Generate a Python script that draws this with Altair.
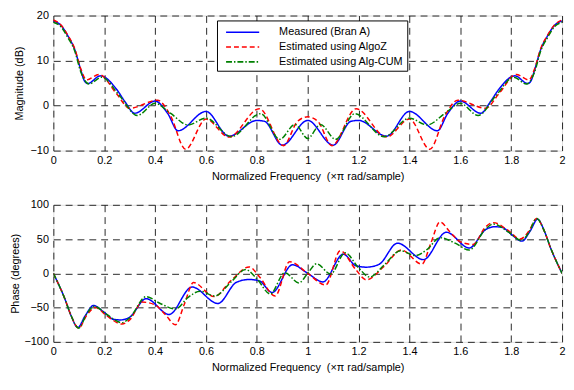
import altair as alt
import pandas as pd

SERIES = ["Measured (Bran A)", "Estimated using AlgoZ", "Estimated using Alg-CUM"]
COLORS = ["#0000ff", "#ff0000", "#008000"]
DASHES = [[1, 0], [5, 3], [6, 2, 1.5, 2]]

x_ticks = [0, 0.2, 0.4, 0.6, 0.8, 1.0, 1.2, 1.4, 1.6, 1.8, 2.0]
mag_ticks = [-10, 0, 10, 20]
phase_ticks = [-100, -50, 0, 50, 100]

# ---- Magnitude (dB) ----
mag_meas_x = [0, 0.03, 0.058, 0.083, 0.109, 0.122, 0.135, 0.185, 0.25, 0.28, 0.32, 0.40, 0.45, 0.49,
              0.60, 0.69, 0.80, 0.83, 0.90, 1.0, 1.10, 1.17, 1.20, 1.31, 1.40, 1.51, 1.55, 1.60,
              1.68, 1.72, 1.75, 1.815, 1.865, 1.878, 1.891, 1.917, 1.942, 1.97, 2.0]
mag_meas_y = [18.8, 17.8, 15.4, 12.6, 7.7, 5.5, 4.9, 6.6, 3.5, 1.0, -1.7, 1.0, -1.8, -5.6,
              -1.3, -6.8, -3.3, -3.5, -8.8, -3.3, -8.8, -3.5, -3.3, -6.8, -1.3, -5.6, -1.8, 1.0,
              -1.7, 1.0, 3.5, 6.6, 4.9, 5.5, 7.7, 12.6, 15.4, 17.8, 18.8]

mag_algoz_x = [0, 0.03, 0.058, 0.083, 0.109, 0.13, 0.18, 0.25, 0.30, 0.41, 0.46, 0.52, 0.60, 0.69,
               0.81, 0.905, 0.96, 1.0, 1.04, 1.095, 1.19, 1.31, 1.40, 1.48, 1.54, 1.59, 1.70,
               1.75, 1.82, 1.87, 1.891, 1.917, 1.942, 1.97, 2.0]
mag_algoz_y = [19.0, 17.9, 15.5, 12.8, 8.0, 5.7, 6.9, 2.5, -0.6, 1.2, -2.2, -9.7, -3.0, -7.0,
               -0.7, -8.9, -3.5, -2.5, -3.5, -8.9, -0.7, -7.0, -3.0, -9.7, -2.2, 1.2, -0.6,
               2.5, 6.9, 5.7, 8.0, 12.8, 15.5, 17.9, 19.0]

mag_cum_x = [0, 0.03, 0.058, 0.083, 0.109, 0.14, 0.19, 0.26, 0.33, 0.40, 0.46, 0.53, 0.60, 0.70,
             0.815, 0.89, 0.95, 1.0, 1.05, 1.11, 1.185, 1.30, 1.40, 1.47, 1.54, 1.60, 1.67,
             1.74, 1.81, 1.86, 1.891, 1.917, 1.942, 1.97, 2.0]
mag_cum_y = [18.5, 17.5, 15.0, 12.3, 7.3, 4.8, 6.3, 2.2, -2.2, 0.5, -1.7, -4.3, -2.8, -6.9,
             -1.8, -7.5, -4.2, -7.3, -4.2, -7.5, -1.8, -6.9, -2.8, -4.3, -1.7, 0.5, -2.2,
             2.2, 6.3, 4.8, 7.3, 12.3, 15.0, 17.5, 18.5]

# ---- Phase (degrees) ----
ph_meas_x = [0, 0.045, 0.07, 0.096, 0.125, 0.158, 0.2, 0.235, 0.265, 0.3, 0.365, 0.455, 0.545,
             0.647, 0.72, 0.77, 0.81, 0.86, 0.94, 1.0, 1.06, 1.14, 1.19, 1.23, 1.28, 1.353,
             1.455, 1.545, 1.635, 1.70, 1.735, 1.765, 1.80, 1.842, 1.875, 1.904, 1.93, 1.955, 2.0]
ph_meas_y = [0, -37, -62, -79, -62, -47, -57, -67, -68, -64, -37, -60, -20,
             -44, -13, -9, -11, -28, 12.5, 0, -12.5, 28, 11, 9, 13, 44,
             20, 60, 37, 64, 68, 67, 57, 47, 62, 79, 62, 37, 0]

ph_algoz_x = [0, 0.045, 0.07, 0.1, 0.13, 0.165, 0.21, 0.27, 0.30, 0.35, 0.40, 0.44, 0.48, 0.515,
              0.551, 0.632, 0.70, 0.77, 0.81, 0.872, 0.929, 1.0, 1.071, 1.128, 1.19, 1.23, 1.30,
              1.368, 1.449, 1.485, 1.52, 1.56, 1.60, 1.65, 1.70, 1.73, 1.79, 1.835, 1.87, 1.9,
              1.93, 1.955, 2.0]
ph_algoz_y = [0, -37, -62, -80, -62, -50, -62, -74, -68, -42, -46, -60, -75, -45,
              -13.5, -34, -10, 9.4, -5, -33, 17, 0, -17, 33, 5, -9.4, 10,
              34, 13.5, 45, 75, 60, 46, 42, 68, 74, 62, 50, 62, 80,
              62, 37, 0]

ph_cum_x = [0, 0.045, 0.07, 0.1, 0.13, 0.16, 0.21, 0.27, 0.30, 0.365, 0.42, 0.48, 0.53, 0.577,
            0.635, 0.70, 0.756, 0.80, 0.853, 0.91, 0.965, 1.0, 1.035, 1.09, 1.147, 1.20, 1.244,
            1.30, 1.365, 1.423, 1.47, 1.52, 1.58, 1.635, 1.70, 1.73, 1.79, 1.84, 1.87, 1.9,
            1.93, 1.955, 2.0]
ph_cum_y = [0, -37, -62, -80, -60, -48, -60, -72, -65, -34, -44, -52, -35, -26,
            -33, -12, 5.5, -8, -30, 1, -14, 0, 14, -1, 30, 8, -5.5,
            12, 33, 26, 35, 52, 44, 34, 65, 72, 60, 48, 60, 80,
            62, 37, 0]


def frame(xs, ys):
    rows = []
    for name, xv, yv in zip(SERIES, xs, ys):
        for a, b in zip(xv, yv):
            rows.append({"f": a, "v": b, "series": name})
    return pd.DataFrame(rows)


mag_df = frame([mag_meas_x, mag_algoz_x, mag_cum_x], [mag_meas_y, mag_algoz_y, mag_cum_y])
ph_df = frame([ph_meas_x, ph_algoz_x, ph_cum_x], [ph_meas_y, ph_algoz_y, ph_cum_y])

XTITLE = "Normalized Frequency \u00a0(\u00d7\u03c0 rad/sample)"
FONT = "Liberation Sans"

axis_common = dict(grid=True, gridColor="#111111", gridDash=[7, 5], gridWidth=0.9,
                   domain=False, ticks=False, labelFlush=False,
                   labelFont=FONT, titleFont=FONT, labelFontSize=11, titleFontSize=11,
                   titleFontWeight="normal", labelColor="black", titleColor="black")

x_enc = alt.X("f:Q", title=XTITLE,
              scale=alt.Scale(domain=[0, 2], nice=False, zero=False),
              axis=alt.Axis(values=x_ticks, format="~g", labelPadding=4, titlePadding=5,
                            **axis_common))

color_scale = alt.Scale(domain=SERIES, range=COLORS)
dash_scale = alt.Scale(domain=SERIES, range=DASHES)

legend = alt.Legend(title=None, orient="none", legendX=166, legendY=5,
                    fillColor="white", strokeColor="black", padding=4,
                    symbolType="M-2.4,0H2.4", symbolSize=196, symbolStrokeWidth=1.6,
                    symbolOffset=14, labelOffset=29,
                    labelFontSize=11, labelFont=FONT, labelColor="black", rowPadding=2,
                    labelLimit=300, offset=0)

top = alt.Chart(mag_df).mark_line(strokeWidth=1.5, interpolate="monotone", clip=True).encode(
    x=x_enc,
    y=alt.Y("v:Q", title="Magnitude (dB)",
            scale=alt.Scale(domain=[-10, 20], nice=False),
            axis=alt.Axis(values=mag_ticks, labelPadding=5, titlePadding=6, **axis_common)),
    color=alt.Color("series:N", scale=color_scale, legend=legend, sort=SERIES),
    strokeDash=alt.StrokeDash("series:N", scale=dash_scale, legend=legend, sort=SERIES),
).properties(width=516, height=137)

bottom = alt.Chart(ph_df).mark_line(strokeWidth=1.5, interpolate="monotone", clip=True).encode(
    x=x_enc,
    y=alt.Y("v:Q", title="Phase (degrees)",
            scale=alt.Scale(domain=[-100, 100], nice=False),
            axis=alt.Axis(values=phase_ticks, labelPadding=5, titlePadding=4, **axis_common)),
    color=alt.Color("series:N", scale=color_scale, legend=None, sort=SERIES),
    strokeDash=alt.StrokeDash("series:N", scale=dash_scale, legend=None, sort=SERIES),
).properties(width=516, height=139)

chart = alt.vconcat(top, bottom, spacing=16).resolve_scale(
    color="independent", strokeDash="independent"
).configure_view(
    stroke="black", strokeWidth=1
).configure(background="white", padding={"left": 0, "top": -2, "right": 0, "bottom": 0})

chart.save("out.html", embed_options={"renderer": "svg", "actions": False})
